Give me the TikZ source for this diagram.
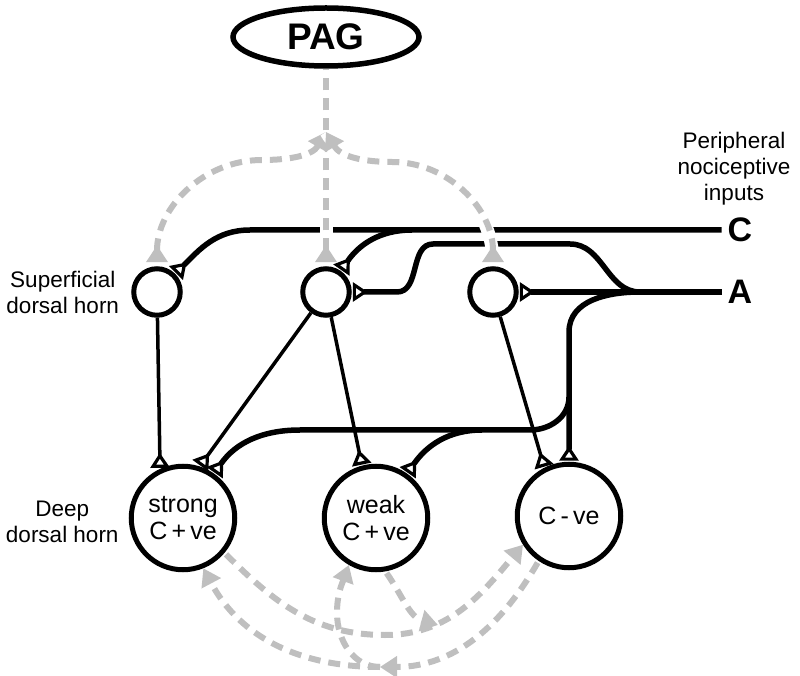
\documentclass[tikz,border=0pt]{standalone}
\usepackage{fontspec}
\setmainfont{Liberation Sans}
\usetikzlibrary{positioning,shapes.geometric,arrows.meta}

\begin{document}
\begin{tikzpicture}[x=1pt, y=1pt, node distance = 8pt]
            \tikzstyle{sup} = [circle, draw=black, line width=5pt, minimum size=46.5pt, inner sep=0pt];
            \tikzstyle{deep} = [circle, draw=black, line width=5pt, minimum size=103.5pt, inner sep=0pt, align=center, font=\fontsize{25}{27}\selectfont];
            \tikzstyle{side} = [align=center, inner sep=2pt, font=\fontsize{22.5}{26}\selectfont];
            \tikzstyle{syn} = [-{Triangle[open, reversed, length=15pt, width=19pt, line width=3.2pt]}, shorten >=1pt];
            \tikzstyle{fibre} = [line width=5.5pt, syn];
            \tikzstyle{proj} = [line width=3.5pt, syn];
            \tikzstyle{asc} = [black!25, line width=6pt, dash pattern=on 12pt off 8pt, -{Triangle[length=17pt, width=21pt]}];
            \tikzstyle{up} = [arrows={Triangle[reversed, length=17pt, width=21pt]-Triangle[length=17pt, width=21pt]}, shorten <=4pt];
            \tikzstyle{cased} = [preaction={draw=white, line width=13pt, solid, -}];
            \useasboundingbox (0,0) rectangle (800,675);

            \node [ellipse, draw=black, line width=5.5pt, minimum width=186pt, minimum height=58pt, font=\bfseries\fontsize{37}{40}\selectfont] (PAG) at (326,638) {PAG};

            \node [sup] (sup1) at (157,383) {};
            \node [sup] (sup2) at (326,383) {};
            \node [sup] (sup3) at (493,383) {};

            \node [deep] (strong) at (183,157) {strong\\C\,+\,ve};
            \node [deep] (weak) at (376,157) {weak\\C\,+\,ve};
            \node [deep] (cneg) at (569,159) {C\,-\,ve};

            \node [side, left = 10pt of sup1] (supLabel) {Superficial\\dorsal horn};
            \node [side, left = 8pt of strong, yshift=-4pt] (deepLabel) {Deep\\dorsal horn};

            \node [font=\bfseries\fontsize{34}{36}\selectfont, inner sep=6pt] (Clab) at (740,445) {C};
            \node [font=\bfseries\fontsize{34}{36}\selectfont, inner sep=6pt] (Alab) at (740,383) {A};
            \node [side, above = 4pt of Clab, xshift=-6pt] (periLabel) {Peripheral\\nociceptive\\inputs};

            \coordinate (cbranch) at (412,445);
            \coordinate (ajoin) at (640,383);
            \coordinate (dbranch) at (569,278);
            \coordinate (wbranch) at (482,245);
            \coordinate (pagmerge) at (326,543);
            \coordinate (outmerge) at (438,50);
            \coordinate (insplit) at (380,8);

            % C and A fibres
            \draw [fibre] (Clab.west) -- (250,445) to[out=180,in=45] (sup1);
            \draw [fibre] (cbranch) to[out=180,in=55] (sup2);
            \draw [fibre] (Alab.west) -- (sup3);
            \draw [fibre] (ajoin) to[out=180,in=0] (570,431) -- (433,431) to[out=180,in=0] (397,383) -- (sup2);
            \draw [fibre] (ajoin) to[out=180,in=90] (569,343) -- (cneg);
            \draw [fibre] (dbranch) to[out=-90,in=0] (530,245) -- (300,245) to[out=180,in=55] (strong);
            \draw [fibre] (wbranch) to[out=180,in=55] (weak);

            % superficial to deep
            \draw [proj] (sup1) -- (strong.115);
            \draw [proj] (sup2) -- (strong.72);
            \draw [proj] (sup2) -- (weak.105);
            \draw [proj] (sup3) -- (cneg.117);

            % ascending to PAG
            \draw [asc, up, arrows={Triangle[reversed, length=17pt, width=21pt]-}, cased] (sup2.north) -- (PAG.south);
            \draw [asc, up] (sup1.north) to[out=90,in=180] (262,515) to[out=0,in=-120] (pagmerge);
            \draw [asc, up, cased] (sup3.north) to[out=90,in=0] (392,513) to[out=180,in=-60] (pagmerge);

            % deep to deep
            \draw [asc, shorten <=2pt] (strong.-40) to[out=-45,in=180] (385,40) to[out=0,in=-130] (cneg.-148);
            \draw [asc, shorten <=2pt] (weak.-80) to[out=-55,in=165] (outmerge);
            \draw [asc, shorten <=2pt] (cneg.-124) to[out=-120,in=0] (insplit);
            \draw [asc] (insplit) to[out=180,in=-62] (strong.-68);
            \draw [asc] (insplit) to[out=180,in=-90] (337,62) to[out=90,in=-110] (weak.-120);
        \end{tikzpicture}
\end{document}
